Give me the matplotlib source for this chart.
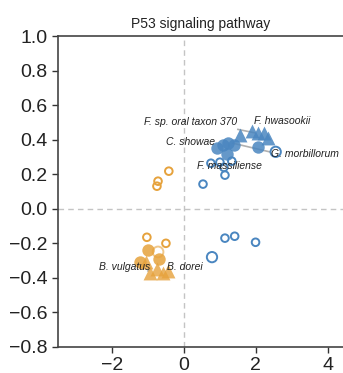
import matplotlib
matplotlib.use("Agg")
import matplotlib.pyplot as plt

plt.rcParams.update({"font.family": ["Liberation Sans", "DejaVu Sans"]})

BLUE = "#4a86c0"
ORANGE = "#e6a23c"

# open circles (small)
BLUE_OPEN_X = [0.75, 1.00, 1.11, 1.33, 1.14, 0.53, 1.14, 1.41, 1.99]
BLUE_OPEN_Y = [0.264, 0.27, 0.24, 0.276, 0.195, 0.143, -0.17, -0.159, -0.194]
BLUE_OPEN_BIG_X = [2.55, 0.78]
BLUE_OPEN_BIG_Y = [0.33, -0.28]
ORANGE_OPEN_X = [-0.42, -0.72, -0.75, -1.03, -0.50]
ORANGE_OPEN_Y = [0.218, 0.16, 0.131, -0.165, -0.20]
ORANGE_OPEN_BIG_X = [-0.72]
ORANGE_OPEN_BIG_Y = [-0.25]

# filled circles / triangles
BLUE_CIRC_X = [0.92, 1.08, 1.22, 1.39, 1.19, 2.05]
BLUE_CIRC_Y = [0.35, 0.37, 0.38, 0.37, 0.32, 0.36]
BLUE_TRI_X = [1.55, 1.88, 2.05, 2.22, 2.33]
BLUE_TRI_Y = [0.43, 0.45, 0.44, 0.44, 0.41]
ORANGE_CIRC_X = [-1.00, -1.22, -0.68]
ORANGE_CIRC_Y = [-0.24, -0.31, -0.29]
ORANGE_TRI_X = [-1.05, -0.94, -0.75, -0.58, -0.44]
ORANGE_TRI_Y = [-0.31, -0.37, -0.35, -0.37, -0.36]

# labels: text, x, y, ha, connector (x0, y0, x1, y1)
LABELS = [
    ("F. hwasookii", 1.94, 0.51, "left", None),
    ("F. sp. oral taxon 370", 1.47, 0.50, "right", (1.50, 0.46, 1.97, 0.44)),
    ("C. showae", 0.86, 0.386, "right", None),
    ("G. morbillorum", 2.42, 0.32, "left", (1.36, 0.38, 2.38, 0.33)),
    ("F. massiliense", 0.36, 0.25, "left", None),
    ("B. vulgatus", -0.94, -0.34, "right", (-1.0, -0.36, -0.95, -0.35)),
    ("B. dorei", -0.47, -0.34, "left", None),
]

fig = plt.figure(figsize=(3.43, 3.73), dpi=100)
ax = fig.add_axes([0.169, 0.070, 0.831, 0.833])

ax.axvline(0, color="#c4c4c4", ls=(0, (4, 3)), lw=1, zorder=0)
ax.axhline(0, color="#c4c4c4", ls=(0, (4, 3)), lw=1, zorder=0)

for t, x, y, ha, seg in LABELS:
    if seg:
        ax.plot([seg[0], seg[2]], [seg[1], seg[3]], color="#b0b0b0", lw=1.2, zorder=1)

ax.scatter(BLUE_OPEN_X, BLUE_OPEN_Y, s=30, facecolor="none", edgecolor=BLUE, lw=1.4, zorder=3)
ax.scatter(BLUE_OPEN_BIG_X, BLUE_OPEN_BIG_Y, s=55, facecolor="none", edgecolor=BLUE, lw=1.4, zorder=3)
ax.scatter(ORANGE_OPEN_X, ORANGE_OPEN_Y, s=30, facecolor="none", edgecolor=ORANGE, lw=1.4, zorder=3)
ax.scatter(ORANGE_OPEN_BIG_X, ORANGE_OPEN_BIG_Y, s=60, facecolor="none", edgecolor=ORANGE,
           lw=1.4, alpha=0.6, zorder=3)

ax.scatter(BLUE_CIRC_X, BLUE_CIRC_Y, s=80, color=BLUE, alpha=0.85, lw=0, zorder=4)
ax.scatter(BLUE_TRI_X, BLUE_TRI_Y, s=100, marker="^", color=BLUE, alpha=0.85, lw=0, zorder=4)
ax.scatter(ORANGE_CIRC_X, ORANGE_CIRC_Y, s=80, color=ORANGE, alpha=0.85, lw=0, zorder=4)
ax.scatter(ORANGE_TRI_X, ORANGE_TRI_Y, s=100, marker="^", color=ORANGE, alpha=0.8, lw=0, zorder=4)

for t, x, y, ha, seg in LABELS:
    ax.text(x, y, t, ha=ha, va="center", fontsize=7.5, style="italic", color="#222", zorder=5)

ax.set_xlim(-3.5, 4.42)
ax.set_ylim(-0.8, 1.0)
ax.set_xticks([-2, 0, 2, 4])
ax.set_yticks([-0.8, -0.6, -0.4, -0.2, 0.0, 0.2, 0.4, 0.6, 0.8, 1.0])
ax.set_yticklabels(["−0.8", "−0.6", "−0.4", "−0.2", "0.0", "0.2", "0.4", "0.6", "0.8", "1.0"])
ax.set_xticklabels(["−2", "0", "2", "4"])
ax.tick_params(labelsize=14, length=4, width=1, color="#333", labelcolor="#222")
ax.spines["right"].set_visible(False)
for s in ["left", "top", "bottom"]:
    ax.spines[s].set_color("#444")
    ax.spines[s].set_linewidth(1.2)
ax.set_title("P53 signaling pathway", fontsize=10, color="#222", pad=6)

fig.savefig("out.png", dpi=100)
